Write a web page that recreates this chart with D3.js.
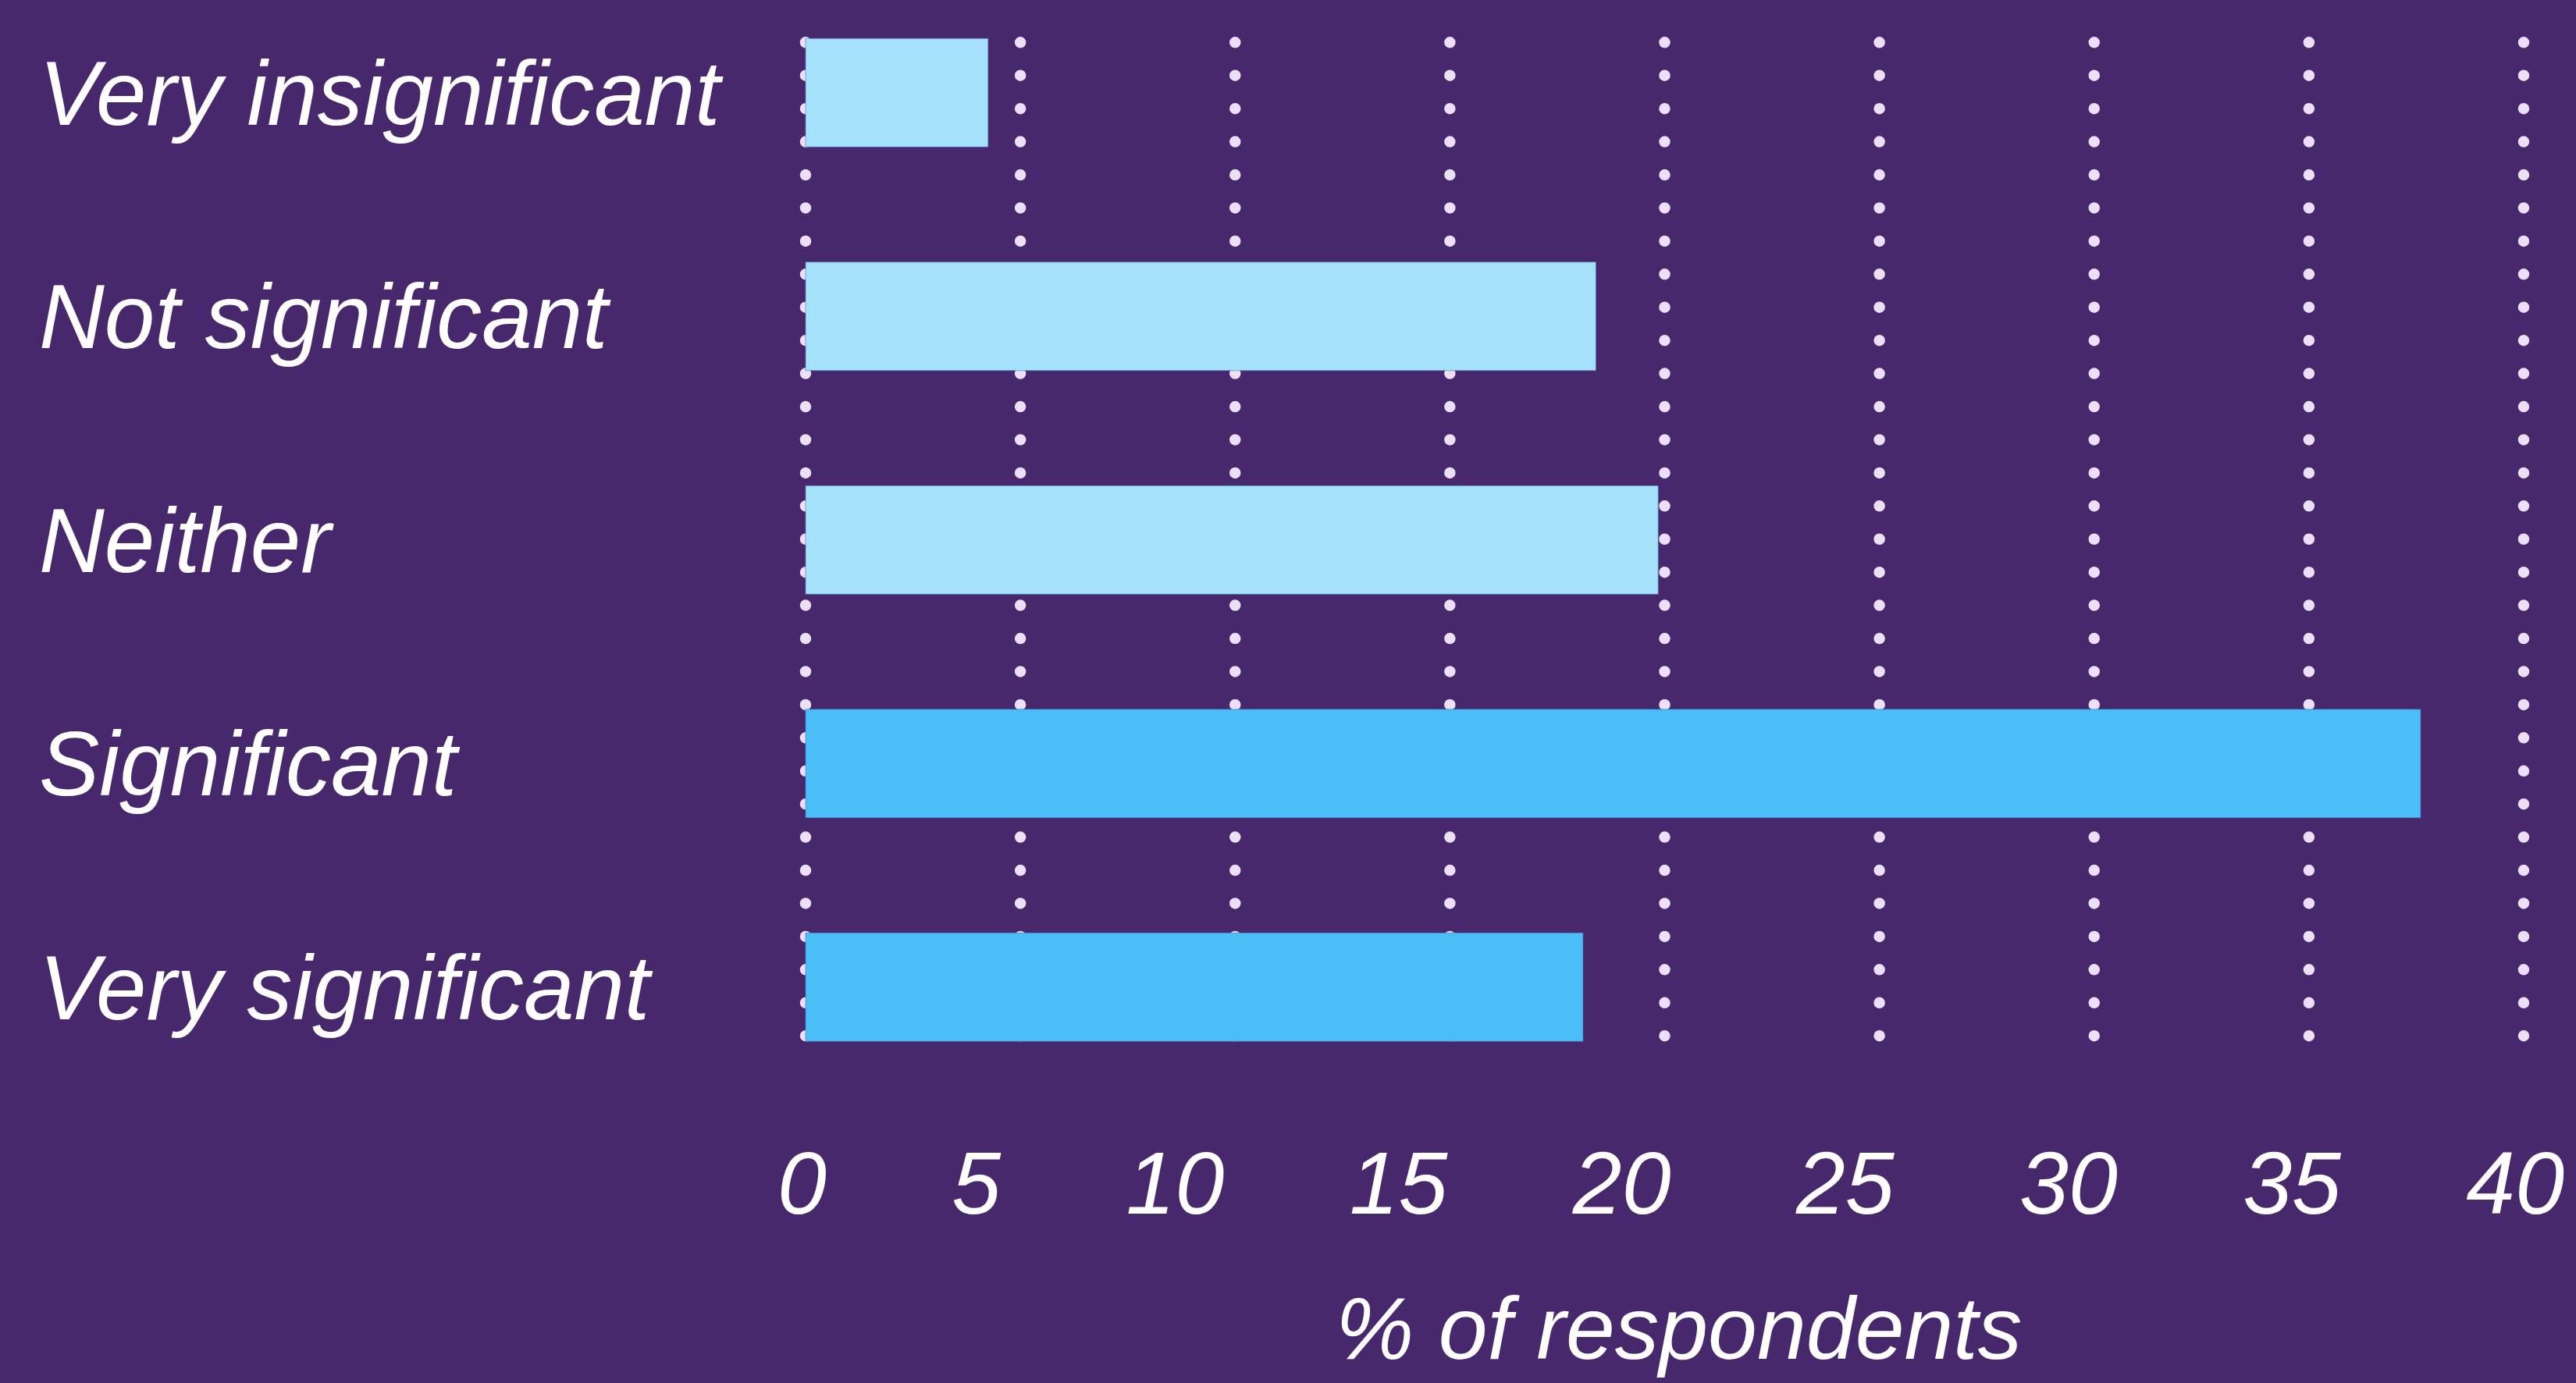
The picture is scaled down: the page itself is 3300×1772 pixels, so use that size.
<!DOCTYPE html>
<html>
<head>
<meta charset="utf-8">
<script src="https://cdn.jsdelivr.net/npm/d3@7"></script>
<style>
  html, body { margin: 0; padding: 0; background: #48286c; }
  svg { display: block; }
  text { font-family: "Liberation Sans", Arial, sans-serif; font-style: italic; fill: #ffffff; }
</style>
</head>
<body>
<svg id="chart" width="3300" height="1772"></svg>
<script>
// ---- data ----
const categories = ["Very insignificant", "Not significant", "Neither", "Significant", "Very significant"];
const values = [4.25, 18.4, 19.85, 37.6, 18.1];
const barColors = ["#a6e1fc", "#a6e1fc", "#a6e1fc", "#4bbef7", "#4bbef7"];
const tickValues = [0, 5, 10, 15, 20, 25, 30, 35, 40];
const tickLabels = ["0", "5", "10", "15", "20", "25", "30", "35", "40"];
const axisTitle = "% of respondents";

// ---- layout ----
const W = 3300, H = 1772;
const svg = d3.select("#chart");
svg.append("rect").attr("width", W).attr("height", H).attr("fill", "#48286c");

const x = d3.scaleLinear().domain([0, 40]).range([1032, 3233]);
const y = d3.scaleBand().domain(categories).range([49.3, 1334.3])
  .paddingInner(0.5148).paddingOuter(0);

// dotted gridlines
const gridTop = 54.3, gridBottom = 1330;
svg.append("g").selectAll("line").data(tickValues).join("line")
  .attr("x1", d => x(d)).attr("x2", d => x(d))
  .attr("y1", gridTop).attr("y2", gridBottom)
  .attr("stroke", "#ebe0f8")
  .attr("stroke-width", 14.5)
  .attr("stroke-linecap", "round")
  .attr("stroke-dasharray", "0 42.43");

// bars
svg.append("g").selectAll("rect").data(categories).join("rect")
  .attr("x", x(0))
  .attr("y", d => y(d))
  .attr("width", (d, i) => x(values[i]) - x(0))
  .attr("height", y.bandwidth())
  .attr("fill", (d, i) => barColors[i])
  .attr("stroke", "rgba(70,110,190,0.55)")
  .attr("stroke-width", 1);

// category labels
svg.append("g").selectAll("text").data(categories).join("text")
  .attr("x", 50)
  .attr("y", d => y(d) + y.bandwidth() / 2 + 41)
  .attr("font-size", 116)
  .text(d => d);

// x axis tick labels (laid out with equal gaps between labels, "space-between")
const xAxis = d3.axisBottom(x).tickValues(tickValues)
  .tickFormat((d, i) => tickLabels[i]).tickSize(0).tickPadding(0);
const gx = svg.append("g").attr("transform", "translate(0,1555)").call(xAxis);
gx.select(".domain").remove();
gx.attr("font-family", null).attr("font-size", null);
const tickTexts = gx.selectAll(".tick text")
  .attr("x", 0).attr("y", 0).attr("dy", 0)
  .attr("font-size", 113)
  .attr("font-family", "Liberation Sans, Arial, sans-serif")
  .attr("font-style", "italic")
  .attr("fill", "#ffffff")
  .attr("text-anchor", "start");
const widths = tickTexts.nodes().map(n => n.getComputedTextLength());
const L = 996, R = 3285;
const totalW = d3.sum(widths);
const gap = (R - L - totalW) / (widths.length - 1);
let cursor = L;
const lefts = widths.map(w => { const p = cursor; cursor += w + gap; return p; });
gx.selectAll(".tick").attr("transform", (d, i) => `translate(${lefts[i]},0)`);

// axis title
svg.append("text")
  .attr("x", (x(0) + x(40)) / 2 + 18)
  .attr("y", 1741)
  .attr("text-anchor", "middle")
  .attr("font-size", 113)
  .text(axisTitle);
</script>
</body>
</html>
